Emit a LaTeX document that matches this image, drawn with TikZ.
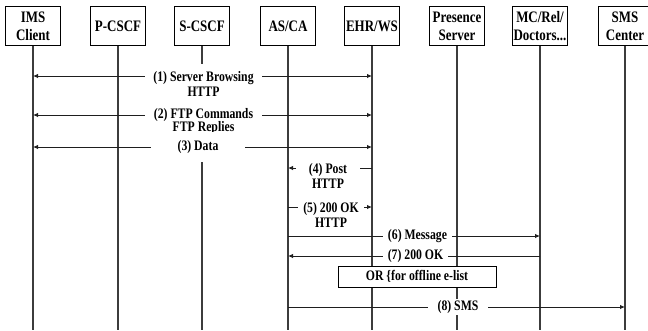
\documentclass[tikz,border=0pt]{standalone}
\usepackage{fontspec}
\usepackage{tikz}
\usetikzlibrary{arrows.meta, positioning}
\newfontfamily\diagfont{Liberation Serif}[FakeStretch=0.81]
\definecolor{lifegray}{RGB}{60, 60, 60}
\definecolor{msgblack}{RGB}{30, 30, 30}

\tikzset{
  entity/.style={draw, line width=0.8pt, fill=white, minimum width=55pt, minimum height=39pt,
    align=center, inner sep=1pt, font=\diagfont\bfseries\fontsize{16}{18}\selectfont},
  lifeline/.style={draw=lifegray, line width=1.1pt},
  msg/.style={draw=msgblack, line width=0.9pt},
  msglbl/.style={fill=white, align=center, inner xsep=2pt, inner ysep=1.5pt,
    font=\diagfont\bfseries\fontsize{14.5}{15}\selectfont},
  notebox/.style={draw, line width=0.8pt, fill=white, minimum width=158pt, minimum height=21pt,
    inner sep=1pt, font=\diagfont\bfseries\fontsize{14.5}{15}\selectfont}
}

\begin{document}
\begin{tikzpicture}[x=1pt, y=-1pt, >={Latex[length=5pt,width=4.5pt]}]
    \useasboundingbox (0,0) rectangle (648,330);

    % Entities
    \node[entity, anchor=north] (ims) at (33,6) {IMS\\Client};
    \node[entity, anchor=north] (pcscf) at (118,6) {P-CSCF};
    \node[entity, anchor=north] (scscf) at (202,6) {S-CSCF};
    \node[entity, anchor=north] (asca) at (288,6) {AS/CA};
    \node[entity, anchor=north] (ehr) at (372,6) {EHR/WS};
    \node[entity, anchor=north] (pres) at (457,6) {Presence\\Server};
    \node[entity, anchor=north] (mc) at (540,6) {MC/Rel/\\Doctors...};
    \node[entity, anchor=north, minimum width=53pt] (sms) at (625,6) {SMS\\Center};

    % Lifelines
    \coordinate (bottom) at (0,330);
    \draw[lifeline] (ims.south) -- (ims.south |- bottom);
    \draw[lifeline] (pcscf.south) -- (pcscf.south |- bottom);
    \draw[lifeline] (scscf.south) -- (scscf.south |- bottom);
    \draw[lifeline] (asca.south) -- (asca.south |- bottom);
    \draw[lifeline] (ehr.south) -- (ehr.south |- bottom);
    \draw[lifeline] (pres.south) -- (pres.south |- bottom);
    \draw[lifeline] (mc.south) -- (mc.south |- bottom);
    \draw[lifeline] (sms.south) -- (sms.south |- bottom);

    % Message rows
    \coordinate (m1) at (0,76);
    \coordinate (m2) at (0,115);
    \coordinate (m3) at (0,147);
    \coordinate (m4) at (0,168);
    \coordinate (m5) at (0,207);
    \coordinate (m6) at (0,236);
    \coordinate (m7) at (0,256);
    \coordinate (m8) at (0,307);

    % Client <-> EHR/WS
    \draw[msg, <->] (ims |- m1) -- (ehr |- m1);
    \draw[msg, <->] (ims |- m2) -- (ehr |- m2);
    \draw[msg, <->] (ims |- m3) -- (ehr |- m3);
    \node[msglbl, minimum width=117pt, inner ysep=7pt] (l1) at (203.5,83.5) {(1) Server Browsing\\HTTP};
    \node[msglbl, minimum width=117pt, inner ysep=7pt] (l2) at (203.5,121.5) {(2) FTP Commands\\[-2pt]FTP Replies};
    \node[msglbl, minimum width=94pt, inner ysep=8pt] (l3) at (198,147) {(3) Data};

    % AS/CA <-> EHR/WS
    \draw[msg, ->] (ehr |- m4) -- (asca |- m4);
    \draw[msg, ->] (asca |- m5) -- (ehr |- m5);
    \node[msglbl, minimum width=64pt] (l4) at (328,175.5) {(4) Post\\HTTP};
    \node[msglbl, minimum width=66pt] (l5) at (331,214.5) {(5) 200 OK\\HTTP};

    % AS/CA <-> MC/Rel/Doctors
    \draw[msg, ->] (asca |- m6) -- (mc |- m6);
    \draw[msg, ->] (mc |- m7) -- (asca |- m7);
    \node[msglbl, minimum width=69pt] (l6) at (417.5,236) {(6) Message};
    \node[msglbl, minimum width=65pt] (l7) at (415.5,256) {(7) 200 OK};

    % Offline alternative
    \node[notebox] (alt) at (417,276.5) {OR \{for offline e-list};
    \draw[msg, ->] (asca |- m8) -- (sms |- m8);
    \node[msglbl, minimum width=60pt] (l8) at (458,307) {(8) SMS};
\end{tikzpicture}
\end{document}
